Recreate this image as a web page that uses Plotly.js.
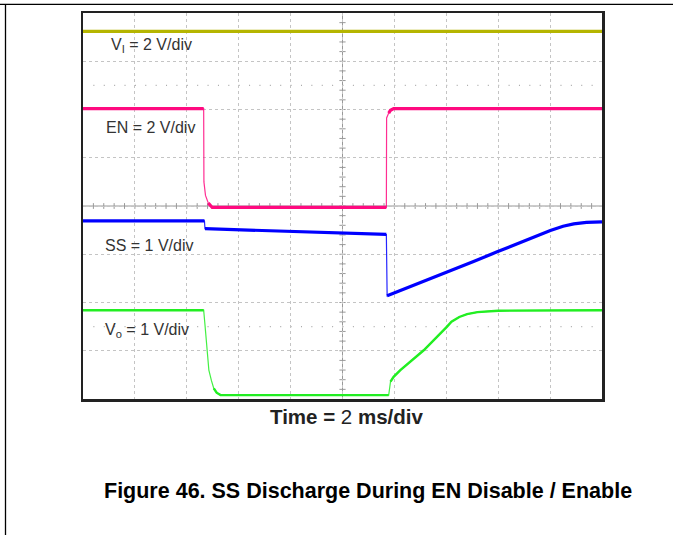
<!DOCTYPE html>
<html><head><meta charset="utf-8">
<script src="https://cdn.plot.ly/plotly-3.0.1.min.js"></script>
<style>html,body{margin:0;padding:0;background:#fff;}#chart{width:673px;height:535px;}</style>
</head><body><div id="chart"></div>
<script>
// ---- data (time in ms, values in volts) ----
const viTime  = [0, 20];
const viVolts = [3.04, 3.04];

const enTime  = [0, 4.65, 4.66, 4.72, 4.83, 4.98, 11.69, 11.70, 11.78, 11.85, 11.97, 20];
const enVolts = [3.96, 3.96, 0.92, 0.36, 0.04, -0.14, -0.14, 3.57, 3.77, 3.89, 3.96, 3.96];

const ssTime  = [0, 4.68, 4.70, 6.45, 8.5, 10.0, 11.65, 11.69, 11.72, 12.1, 13.26, 14.03, 15.05, 15.96, 17.11, 18.01, 18.5, 18.91, 19.4, 20];
const ssVolts = [1.67, 1.67, 1.51, 1.48, 1.44, 1.41, 1.39, 1.39, 0.12, 0.20, 0.45, 0.61, 0.83, 1.03, 1.28, 1.47, 1.56, 1.61, 1.64, 1.65];

const voTime  = [0, 4.65, 4.69, 4.74, 4.85, 4.95, 5.04, 5.15, 5.3, 11.78, 11.83, 11.85, 11.97, 12.23, 13.13, 14.03, 14.2, 14.5, 14.8, 15.2, 15.6, 16.0, 20];
const voVolts = [1.84, 1.84, 1.6, 1.29, 0.60, 0.38, 0.22, 0.13, 0.08, 0.08, 0.30, 0.36, 0.46, 0.60, 1.01, 1.50, 1.60, 1.70, 1.76, 1.80, 1.82, 1.83, 1.84];

const labels = ['V<sub>I</sub> = 2 V/div', 'EN = 2 V/div', 'SS = 1 V/div', 'V<sub>o</sub> = 1 V/div'];
const timeLabel = '<b>Time =</b> 2 <b>ms/div</b>';
const caption = '<b>Figure 46. SS Discharge During EN Disable / Enable</b>';

// ---- channel display settings (V/div, ground position in divisions) ----
const channels = [
  {t: viTime, v: viVolts, scale: 2, ground: 6.1,  color: '#b5b500', width: 3.2, label: labels[0], lx: 1.0,  ly: 7.33},
  {t: enTime, v: enVolts, scale: 2, ground: 4.04, color: '#ff0a80', width: 3.2, label: labels[1], lx: 0.8,  ly: 5.63},
  {t: ssTime, v: ssVolts, scale: 1, ground: 2.02, color: '#0000ff', width: 3.2, label: labels[2], lx: 0.78, ly: 3.19},
  {t: voTime, v: voVolts, scale: 1, ground: 0.0,  color: '#22ee22', width: 2.4, label: labels[3], lx: 0.78, ly: 1.43}
];

const L = 83, T = 13, W = 519, H = 386;
const px2paper = px => (px - L) / W;
const py2paper = py => (T + H - py) / H;
const pxPerMs = W / 20, pxPerDiv = H / 8;

const traces = [];
channels.forEach(c => {
  const ys = c.v.map(v => c.ground + v / c.scale);
  // thin trace: full waveform (fast edges are drawn thin, like the scope)
  traces.push({x: c.t, y: ys, type: 'scatter', mode: 'lines',
    line: {color: c.color, width: 1.2}, opacity: 0.85, hoverinfo: 'skip', showlegend: false});
  // thick trace: break on steep (fast) edges
  const tx = [], ty = [];
  for (let i = 0; i < c.t.length; i++) {
    if (i > 0) {
      const dx = (c.t[i] - c.t[i - 1]) * pxPerMs, dy = Math.abs(ys[i] - ys[i - 1]) * pxPerDiv;
      if (dy > 1.8 * dx) { tx.push(null); ty.push(null); }
    }
    tx.push(c.t[i]); ty.push(ys[i]);
  }
  traces.push({x: tx, y: ty, type: 'scatter', mode: 'lines', connectgaps: false,
    line: {color: c.color, width: c.width}, hoverinfo: 'skip', showlegend: false});
});
// ground markers
traces.push({
  x: channels.map(() => -0.14), y: channels.map(c => c.ground),
  type: 'scatter', mode: 'markers', cliponaxis: false,
  marker: {symbol: 'triangle-right', size: 6, color: '#111'},
  hoverinfo: 'skip', showlegend: false
});

const shapes = [];
shapes.push({type: 'line', xref: 'x', yref: 'y', x0: 0, x1: 20, y0: 4, y1: 4, line: {color: '#999', width: 1}, layer: 'below'});
shapes.push({type: 'line', xref: 'x', yref: 'y', x0: 10, x1: 10, y0: 0, y1: 8, line: {color: '#999', width: 1}, layer: 'below'});
for (let i = 1; i < 50; i++) {
  const x = i * 0.4;
  shapes.push({type: 'line', xref: 'x', yref: 'y', x0: x, x1: x, y0: 3.94, y1: 4.06, line: {color: '#999', width: 1}, layer: 'below'});
}
for (let i = 1; i < 40; i++) {
  const y = i * 0.2;
  shapes.push({type: 'line', xref: 'x', yref: 'y', x0: 9.88, x1: 10.12, y0: y, y1: y, line: {color: '#999', width: 1}, layer: 'below'});
}
[6.5, 1.5].forEach(y => shapes.push({type: 'line', xref: 'x', yref: 'y', x0: 0.4, x1: 19.8, y0: y, y1: y,
  line: {color: '#aaa', width: 1.2, dash: '1px,9.38px'}, layer: 'below'}));
shapes.push({type: 'line', xref: 'paper', yref: 'paper', x0: px2paper(0), x1: px2paper(673), y0: py2paper(4.3), y1: py2paper(4.3), line: {color: '#000', width: 1.3}});
shapes.push({type: 'line', xref: 'paper', yref: 'paper', x0: px2paper(5.5), x1: px2paper(5.5), y0: py2paper(4.3), y1: py2paper(535), line: {color: '#000', width: 1.3}});

const annotations = channels.map(c => ({
  x: c.lx, y: c.ly, xref: 'x', yref: 'y', text: c.label, showarrow: false,
  xanchor: 'left', yanchor: 'middle', font: {family: 'Liberation Sans, Arial, sans-serif', size: 16, color: '#333'}
}));
annotations.push({x: px2paper(346), y: py2paper(416), xref: 'paper', yref: 'paper', text: timeLabel, showarrow: false,
  xanchor: 'center', yanchor: 'middle', font: {family: 'Liberation Sans, Arial, sans-serif', size: 20.5, color: '#222'}});
annotations.push({x: px2paper(368), y: py2paper(491), xref: 'paper', yref: 'paper', text: caption, showarrow: false,
  xanchor: 'center', yanchor: 'middle', font: {family: 'Liberation Sans, Arial, sans-serif', size: 21.5, color: '#000'}});

const axisCommon = {showticklabels: false, ticks: '', zeroline: false, showline: true, mirror: true,
  linecolor: '#222', linewidth: 2.5, showgrid: true, gridcolor: '#c4c4c4', gridwidth: 1, griddash: 'dot', fixedrange: true};

const layout = {
  width: 673, height: 535,
  margin: {l: L, r: 673 - L - W, t: T, b: 535 - T - H, pad: 0},
  paper_bgcolor: '#fff', plot_bgcolor: '#fff',
  xaxis: Object.assign({range: [0, 20], dtick: 2, tick0: 0}, axisCommon),
  yaxis: Object.assign({range: [0, 8], dtick: 1, tick0: 0}, axisCommon),
  shapes: shapes, annotations: annotations, showlegend: false
};

Plotly.newPlot('chart', traces, layout, {displayModeBar: false, staticPlot: true});
</script></body></html>
